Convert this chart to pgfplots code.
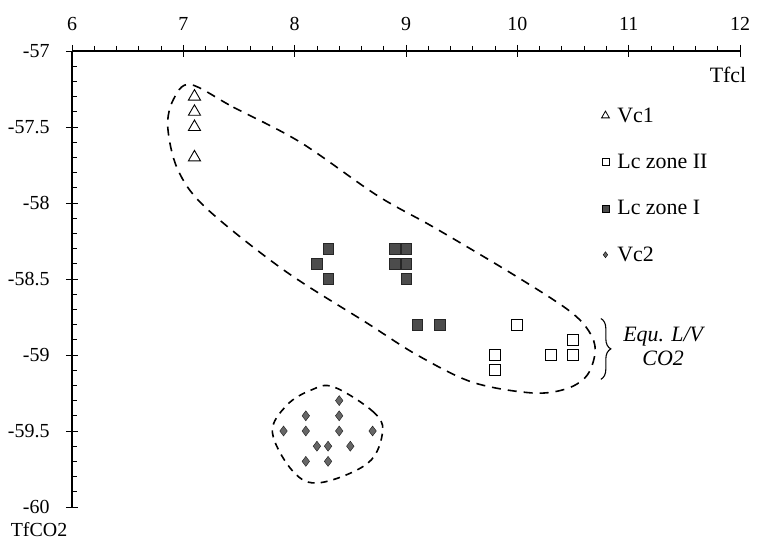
\documentclass[border=0pt]{standalone}
\usepackage{fontspec}
\setmainfont{Liberation Serif}
\usepackage{pgfplots}
\pgfplotsset{compat=1.18}
\usetikzlibrary{decorations.pathreplacing}

\begin{document}
\begin{tikzpicture}[font=\fontsize{20}{24}\selectfont]
\useasboundingbox (-72bp,-39bp) rectangle (691bp,507bp);
\begin{axis}[
  scale only axis, width=668bp, height=456bp,
  xmin=6, xmax=12, ymin=-60, ymax=-57,
  axis x line=top, axis y line=left,
  axis line style={-, line width=1.2bp},
  xtick={6,7,8,9,10,11,12},
  ytick={-60,-59.5,-59,-58.5,-58,-57.5,-57},
  minor x tick num=4, minor y tick num=4,
  tick align=center, major tick length=12bp, minor tick length=5bp,
  tick style={black, line width=0.8bp},
  minor x tick style={yshift=2.5bp},
  minor y tick style={xshift=2.5bp},
  /pgf/number format/assume math mode=true,
  xticklabel style={yshift=11bp},
  yticklabel style={xshift=-13bp},
  clip=false,
  legend style={draw=none, fill=none, at={(rel axis cs:0.788,0.885)},
    anchor=north west, row sep=26.5bp, font=\fontsize{22}{26}\selectfont},
  legend cell align=left,
]
% Vc1
\addplot[forget plot, only marks, mark=triangle, mark size=7bp, line width=0.9bp]
  coordinates {(7.1,-57.3) (7.1,-57.4) (7.1,-57.5) (7.1,-57.7)};
% Lc zone II
\addplot[forget plot, only marks, mark=square, mark size=5.5bp, line width=0.9bp]
  coordinates {(10.0,-58.8) (10.5,-58.9) (9.8,-59.0) (10.3,-59.0) (10.5,-59.0) (9.8,-59.1)};
% Lc zone I
\addplot[forget plot, only marks, mark=square*, mark size=5.3bp, mark options={fill=black!70, draw=black!85}]
  coordinates {(8.3,-58.3) (8.2,-58.4) (8.3,-58.5) (8.9,-58.3) (9.0,-58.3)
               (8.9,-58.4) (9.0,-58.4) (9.0,-58.5) (9.1,-58.8) (9.3,-58.8)};
% Vc2
\addplot[forget plot, only marks, mark=diamond*, mark size=5bp, mark options={fill=black!60, draw=black!90}]
  coordinates {(8.4,-59.3) (8.1,-59.4) (8.4,-59.4) (7.9,-59.5) (8.1,-59.5) (8.4,-59.5)
               (8.7,-59.5) (8.2,-59.6) (8.3,-59.6) (8.5,-59.6) (8.1,-59.7) (8.3,-59.7)};

\addlegendimage{only marks, mark=triangle, mark size=4.5bp, line width=0.8bp}
\addlegendentry{\hspace{6bp}Vc1}
\addlegendimage{only marks, mark=square, mark size=3.5bp, line width=0.8bp}
\addlegendentry{\hspace{6bp}Lc zone II}
\addlegendimage{only marks, mark=square*, mark size=3.5bp, mark options={fill=black!70}}
\addlegendentry{\hspace{6bp}Lc zone I}
\addlegendimage{only marks, mark=diamond*, mark size=3bp, mark options={fill=black!60}}
\addlegendentry{\hspace{6bp}Vc2}

% envelopes
\draw[dash pattern=on 9bp off 7bp, line width=1.6bp] plot[smooth cycle, tension=0.55] coordinates {
  (7.06,-57.22) (7.45,-57.37) (8.05,-57.6) (8.74,-57.95) (9.25,-58.16) (9.94,-58.46)
  (10.45,-58.70) (10.64,-58.84) (10.70,-58.97) (10.63,-59.13) (10.45,-59.22) (10.14,-59.25)
  (9.6,-59.18) (9.1,-59.0) (8.65,-58.79) (7.9,-58.44) (7.2,-58.03) (6.95,-57.78)
  (6.86,-57.5) (6.91,-57.32)};
\draw[dash pattern=on 7bp off 6bp, line width=1.6bp] plot[smooth cycle, tension=0.6] coordinates {
  (8.35,-59.21) (8.7,-59.37) (8.79,-59.5) (8.66,-59.71) (8.23,-59.84) (7.99,-59.77)
  (7.8,-59.51) (7.93,-59.33) (8.15,-59.23)};

% brace and note
\draw[decorate, decoration={brace, amplitude=10bp}, line width=1.1bp]
  (axis cs:10.75,-58.76) -- (axis cs:10.75,-59.16);
\node[font=\fontsize{22}{24}\selectfont\itshape, align=center] at (axis cs:11.31,-58.945) {Equ. L/V\\CO2};

\node at (rel axis cs:1,1) [xshift=-12bp, yshift=-24bp, font=\fontsize{22}{26}\selectfont] {Tfcl};
\node at (rel axis cs:0,0) [xshift=-33bp, yshift=-23bp] {TfCO2};
\end{axis}
\end{tikzpicture}
\end{document}
